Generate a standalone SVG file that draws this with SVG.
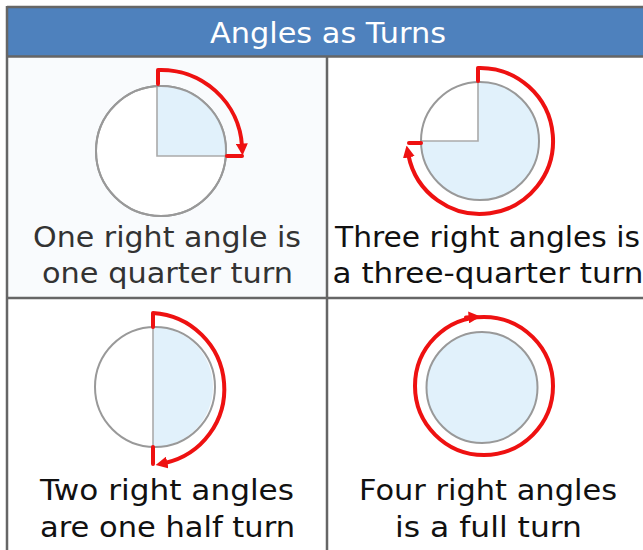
<svg xmlns="http://www.w3.org/2000/svg" width="643" height="550" viewBox="0 0 643 550">
<style>
.grid{stroke:#666;stroke-width:2.5;fill:none}
.circ{stroke:#999;stroke-width:2;fill:#fff}
.shade{fill:#e1f1fb;stroke:none}
.rad{stroke:#aaa;stroke-width:1.6;fill:none}
.turn{stroke:#ee1111;stroke-width:4;fill:none;stroke-linecap:round;stroke-linejoin:round}
.lbl{font-family:"DejaVu Sans","Noto Sans",sans-serif;font-size:28.5px;text-anchor:middle;fill:#111}
.title{font-family:"DejaVu Sans","Noto Sans",sans-serif;font-size:28px;text-anchor:middle;fill:#fff}
</style>
<defs>
<marker id="ah" viewBox="0 0 10 10" markerWidth="12" markerHeight="12" refX="2" refY="5" orient="auto" markerUnits="userSpaceOnUse">
<path d="M0,0 L10,5 L0,10 z" fill="#ee1111"/>
</marker>
</defs>
<rect width="643" height="550" fill="#fff"/>
<g id="header">
<rect x="7" y="7" width="640" height="49.5" fill="#4e81bd"/>
<text class="title" x="328" y="43" textLength="236" lengthAdjust="spacingAndGlyphs">Angles as Turns</text>
</g>
<g id="grid">
<rect x="8" y="57" width="318" height="240" fill="#f9fbfd"/>
<line class="grid" x1="7" y1="7" x2="643" y2="7"/>
<line class="grid" x1="7" y1="6" x2="7" y2="550"/>
<line class="grid" x1="7" y1="56.5" x2="643" y2="56.5"/>
<line class="grid" x1="327" y1="56.5" x2="327" y2="550"/>
<line class="grid" x1="7" y1="298" x2="643" y2="298"/>
</g>
<g id="quarter">
<circle class="circ" cx="161" cy="151" r="65"/>
<path class="shade" d="M157,156 V86.1 A65,65 0 0 1 225.8,156 Z"/>
<path class="rad" d="M157,86 V156 H226"/>
<circle cx="161" cy="151" r="65" fill="none" stroke="#999" stroke-width="2"/>
<path class="turn" d="M158,84 V70 A81,81 0 0 1 242,146" marker-end="url(#ah)"/>
<path class="turn" d="M227,156 H242"/>
<text class="lbl" x="167" y="247" style="fill:#333" textLength="268" lengthAdjust="spacingAndGlyphs">One right angle is</text>
<text class="lbl" x="167.5" y="283" style="fill:#333" textLength="251" lengthAdjust="spacingAndGlyphs">one quarter turn</text>
</g>
<g id="threequarter">
<circle cx="480" cy="141" r="59" fill="#e1f1fb"/>
<path d="M478,141 V82.1 A59,59 0 0 0 421,141 Z" fill="#fff"/>
<path class="rad" d="M478,82 V141 H421"/>
<circle cx="480" cy="141" r="59" fill="none" stroke="#999" stroke-width="2"/>
<path class="turn" d="M478,81 V68 A73,73 0 1 1 408.4,155" marker-end="url(#ah)"/>
<path class="turn" d="M409,143 H421"/>
<text class="lbl" x="487.5" y="247" textLength="305" lengthAdjust="spacingAndGlyphs">Three right angles is</text>
<text class="lbl" x="488" y="283" textLength="311" lengthAdjust="spacingAndGlyphs">a three-quarter turn</text>
</g>
<g id="half">
<circle cx="155" cy="387" r="60" fill="#fff"/>
<path class="shade" d="M153,327 A60,60 0 0 1 153,447 Z"/>
<path class="rad" d="M153,327 V447"/>
<circle cx="155" cy="387" r="60" fill="none" stroke="#999" stroke-width="2"/>
<path class="turn" d="M153,327 V313 A76,76 0 0 1 165,463" marker-end="url(#ah)"/>
<path class="turn" d="M153,447 V464"/>
<text class="lbl" x="167" y="500" textLength="254" lengthAdjust="spacingAndGlyphs">Two right angles</text>
<text class="lbl" x="167.5" y="537" textLength="255" lengthAdjust="spacingAndGlyphs">are one half turn</text>
</g>
<g id="full">
<circle cx="482" cy="387.5" r="55.5" fill="#e1f1fb" stroke="#999" stroke-width="2"/>
<circle class="turn" cx="484" cy="386" r="69"/>
<path class="turn" d="M466,317.6 L471,317.2" marker-end="url(#ah)"/>
<text class="lbl" x="488" y="500" textLength="258" lengthAdjust="spacingAndGlyphs">Four right angles</text>
<text class="lbl" x="488.5" y="537" textLength="187" lengthAdjust="spacingAndGlyphs">is a full turn</text>
</g>
</svg>
